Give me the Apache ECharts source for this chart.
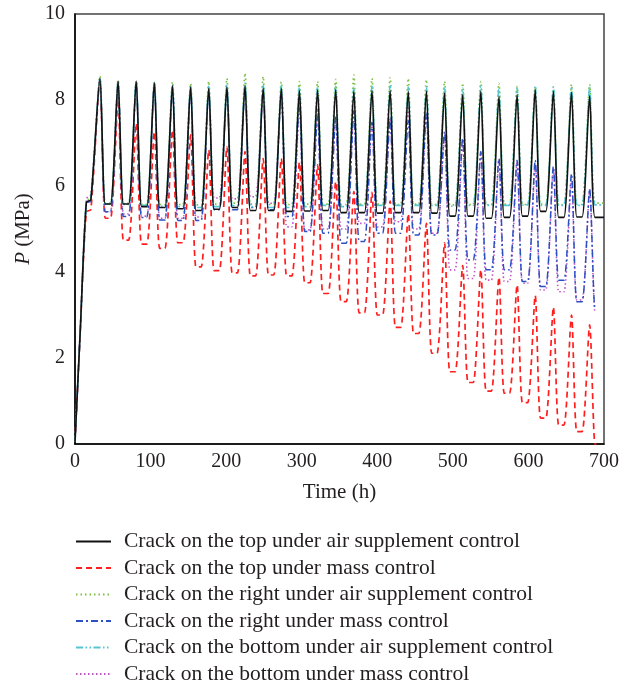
<!DOCTYPE html>
<html><head><meta charset="utf-8">
<script src="https://cdn.jsdelivr.net/npm/echarts@6/dist/echarts.min.js"></script>
<style>html,body{margin:0;padding:0;background:#fff}#c{width:634px;height:688px}</style>
</head><body><div id="c"></div><script>
const seriesNames = [
  'Crack on the top under air supplement control',
  'Crack on the top under mass control',
  'Crack on the right under air supplement control',
  'Crack on the right under mass control',
  'Crack on the bottom under air supplement control',
  'Crack on the bottom under mass control'
];
// time points (h)
const startTimes = [0, 7, 15, 21];
const peakTimes = [33,57,81,105,129,153,177,201,225,249,273,297,321,345,369,393,417,441,465,489,513,537,561,585,609,633,657,681];
const fallEndTimes = [40,64,88,112,136,160,184,208,232,256,280,304,328,352,376,400,424,448,472,496,520,544,568,592,616,640,664,688];
const riseStartTimes = [47,71,95,119,143,167,191,215,239,263,287,311,335,359,383,407,431,455,479,503,527,551,575,599,623,647,671];
const endTimeAir = 700;
const endTimeMass = 690;

// values (MPa)
const topAirStart = [0.05, 2.65, 5.62, 5.68];
const topAirPeaks = [8.50,8.44,8.44,8.40,8.33,8.30,8.27,8.30,8.33,8.27,8.27,8.22,8.23,8.24,8.20,8.22,8.22,8.20,8.20,8.16,8.12,8.20,8.08,8.12,8.24,8.20,8.18,8.10];
const topAirTroughs = [5.58,5.58,5.52,5.50,5.47,5.43,5.46,5.50,5.43,5.43,5.41,5.42,5.43,5.38,5.38,5.37,5.38,5.38,5.37,5.30,5.30,5.25,5.27,5.30,5.41,5.27,5.28,5.27];

const topMassStart = [0.05, 2.65, 5.40, 5.45];
const topMassPeaks = [8.45,8.00,7.45,7.26,7.30,7.19,6.84,6.91,6.80,6.64,6.64,6.55,6.49,6.10,5.87,5.85,5.65,5.35,5.13,4.68,4.15,4.05,3.88,3.70,3.45,3.18,3.00,2.77];
const topMassTroughs = [5.25,4.74,4.65,4.55,4.68,4.12,4.03,3.98,3.91,3.93,3.91,3.75,3.50,3.31,3.05,3.00,2.71,2.57,2.11,1.68,1.43,1.23,1.18,0.96,0.60,0.44,0.29,0.00];

const rightAirStart = [0.05, 2.65, 5.65, 5.72];
const rightAirPeaks = [8.55,8.46,8.45,8.43,8.42,8.38,8.43,8.50,8.62,8.54,8.42,8.43,8.43,8.48,8.58,8.50,8.52,8.50,8.47,8.43,8.39,8.43,8.39,8.31,8.30,8.30,8.36,8.36];
const rightAirTroughs = [5.60,5.60,5.58,5.57,5.57,5.56,5.58,5.60,5.58,5.57,5.57,5.58,5.58,5.57,5.58,5.58,5.57,5.58,5.57,5.56,5.57,5.56,5.58,5.57,5.58,5.56,5.57,5.60];

const rightMassStart = [0.05, 2.65, 5.60, 5.65];
const rightMassPeaks = [8.48,8.42,8.42,8.38,8.30,8.28,8.25,8.28,8.30,8.25,8.22,7.95,7.65,7.62,7.75,7.48,7.58,7.52,7.69,7.26,7.11,6.80,6.64,6.60,6.60,6.45,6.28,5.93];
const rightMassTroughs = [5.40,5.29,5.27,5.21,5.20,5.20,5.45,5.45,5.50,5.45,5.29,4.94,4.90,4.67,4.71,4.90,4.90,4.86,4.86,4.51,4.28,4.05,4.05,3.78,3.66,3.81,3.31,3.16];

const bottomAirStart = [0.05, 2.65, 5.62, 5.70];
const bottomAirPeaks = [8.50,8.44,8.44,8.41,8.36,8.33,8.32,8.35,8.40,8.35,8.33,8.30,8.30,8.32,8.30,8.32,8.33,8.30,8.30,8.30,8.28,8.32,8.25,8.28,8.33,8.30,8.30,8.30];
const bottomAirTroughs = [5.58,5.57,5.55,5.53,5.52,5.50,5.52,5.54,5.52,5.50,5.50,5.52,5.55,5.52,5.55,5.55,5.55,5.55,5.55,5.53,5.55,5.55,5.55,5.56,5.55,5.55,5.55,5.56];

const bottomMassStart = [0.05, 2.65, 5.70, 5.80];
const bottomMassPeaks = [8.50,8.43,8.43,8.39,8.32,8.29,8.26,8.29,8.31,8.26,8.20,7.80,7.80,7.58,7.73,7.50,7.57,7.85,7.65,7.20,7.05,6.76,6.60,6.55,6.50,6.40,6.14,5.91];
const bottomMassTroughs = [5.40,5.35,5.30,5.25,5.25,5.28,5.72,5.70,5.75,5.60,5.05,4.98,5.00,5.00,5.13,5.05,5.17,5.00,4.90,4.05,3.85,3.81,3.78,3.74,3.58,3.54,3.35,3.08];

function build(startVals, peaks, troughs, endT) {
  const pts = startTimes.map((t, i) => [t, startVals[i]]);
  for (let k = 0; k < peakTimes.length; k++) {
    pts.push([peakTimes[k], peaks[k]]);
    pts.push([fallEndTimes[k], troughs[k]]);
    pts.push([k < riseStartTimes.length ? riseStartTimes[k] : endT, troughs[k]]);
  }
  return pts;
}

const FONT = 'Liberation Serif';
const TXT = '#231f20';
const styles = [
  {color: '#111111', type: 'solid', width: 1.6, z: 8},
  {color: '#ff1e1e', type: [6, 4], width: 1.7, z: 3},
  {color: '#7cc144', type: [1.5, 3], width: 1.7, z: 6},
  {color: '#2c4fc4', type: [7, 3, 2, 3], width: 1.5, z: 5},
  {color: '#55c6d2', type: [7, 2.5, 1.5, 2.5, 1.5, 2.5], width: 1.6, z: 7},
  {color: '#c055c6', type: [1.5, 2.5], width: 1.6, z: 4}
];
const datasets = [
  build(topAirStart, topAirPeaks, topAirTroughs, endTimeAir),
  build(topMassStart, topMassPeaks, topMassTroughs, endTimeMass),
  build(rightAirStart, rightAirPeaks, rightAirTroughs, endTimeAir),
  build(rightMassStart, rightMassPeaks, rightMassTroughs, endTimeMass),
  build(bottomAirStart, bottomAirPeaks, bottomAirTroughs, endTimeAir),
  build(bottomMassStart, bottomMassPeaks, bottomMassTroughs, endTimeMass)
];

const chart = echarts.init(document.getElementById('c'), null, {renderer: 'canvas'});
chart.setOption({
  animation: false,
  backgroundColor: '#ffffff',
  grid: {left: 75, right: 30, top: 14, bottom: 244, show: true, borderColor: '#444', borderWidth: 1.5, containLabel: false},
  legend: {
    orient: 'vertical', left: 75, top: 530.5, padding: 0, height: 157,
    itemWidth: 35, itemHeight: 14, itemGap: 4.5,
    data: seriesNames,
    itemStyle: {opacity: 0},
    textStyle: {fontFamily: FONT, fontSize: 21.5, color: TXT, padding: [0, 0, 0, 8]}
  },
  xAxis: {
    type: 'value', min: 0, max: 700, interval: 100,
    name: 'Time (h)', nameLocation: 'middle', nameGap: 38,
    nameTextStyle: {fontFamily: FONT, fontSize: 21, color: TXT},
    axisLine: {lineStyle: {color: '#000', width: 1.5}},
    axisTick: {show: false},
    axisLabel: {fontFamily: FONT, fontSize: 20, color: TXT, margin: 8},
    splitLine: {show: false}
  },
  yAxis: {
    type: 'value', min: 0, max: 10, interval: 2,
    name: '{i|P} (MPa)', nameLocation: 'middle', nameGap: 40,
    nameTextStyle: {fontFamily: FONT, fontSize: 21, color: TXT,
      rich: {i: {fontFamily: FONT, fontSize: 21, fontStyle: 'italic', color: TXT}}},
    axisLine: {lineStyle: {color: '#000', width: 1.5}},
    axisTick: {show: false},
    axisLabel: {fontFamily: FONT, fontSize: 20, color: TXT, margin: 10},
    splitLine: {show: false}
  },
  series: seriesNames.map((n, i) => ({
    name: n, type: 'line', data: datasets[i], symbol: 'none', showSymbol: false,
    smooth: 0.25, z: styles[i].z,
    itemStyle: {color: styles[i].color},
    lineStyle: {color: styles[i].color, type: styles[i].type, width: styles[i].width}
  }))
});
</script></body></html>
